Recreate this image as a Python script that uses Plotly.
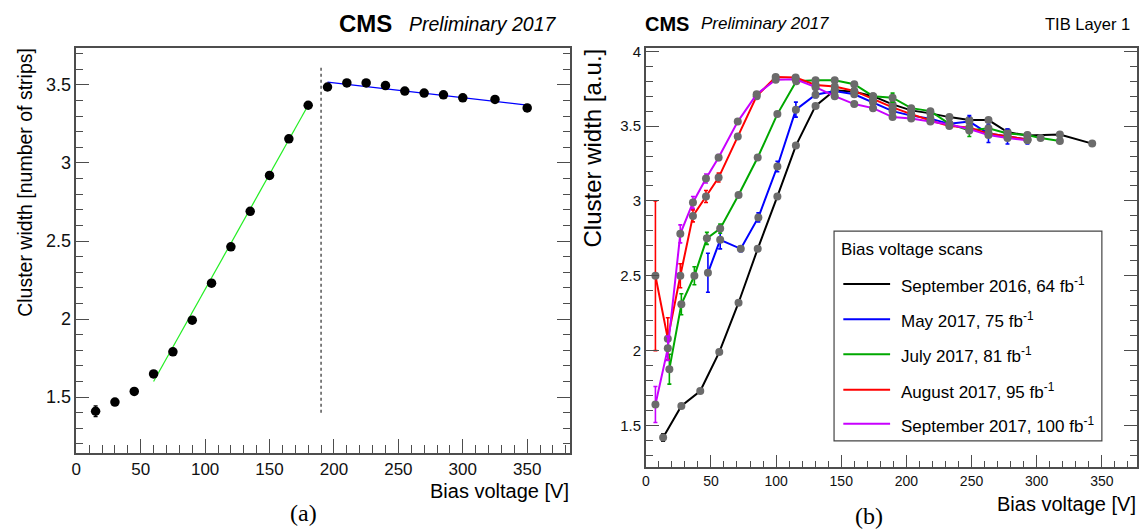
import plotly.graph_objects as go

W, H = 1141, 530

# ---------------- Panel (a): cluster width vs bias voltage ----------------
a_voltage = [15, 30, 45, 60, 75, 90, 105, 120, 135, 150, 165, 180,
             195, 210, 225, 240, 255, 270, 285, 300, 325, 350]
a_width = [1.409, 1.468, 1.536, 1.648, 1.79, 1.993, 2.23, 2.463, 2.69, 2.92, 3.155, 3.37,
           3.487, 3.513, 3.513, 3.496, 3.461, 3.448, 3.437, 3.418, 3.407, 3.353]
a_err = [0.035, 0.008, 0.008, 0.008, 0.008, 0.008, 0.008, 0.008, 0.008, 0.008, 0.008, 0.008,
         0.008, 0.008, 0.008, 0.008, 0.008, 0.008, 0.008, 0.008, 0.008, 0.008]
fit_low_v = [60, 179]
fit_low_w = [1.60, 3.356]
fit_high_v = [195, 350]
fit_high_w = [3.518, 3.371]
transition_v = [190, 190]
transition_w = [1.40, 3.62]

# ---------------- Panel (b): TIB Layer 1 bias voltage scans ----------------
sep16_v = [13.3, 27.3, 41.8, 56.4, 71.2, 85.9, 101, 115.2, 130.3, 145, 160, 174.4,
           189.4, 203.7, 218.4, 233, 248.3, 263, 277.6, 292.9, 317.8, 342.6]
sep16_w = [1.42, 1.63, 1.73, 1.99, 2.32, 2.68, 3.03, 3.37, 3.635, 3.74, 3.73, 3.70,
           3.645, 3.605, 3.585, 3.56, 3.54, 3.54, 3.46, 3.437, 3.444, 3.383]
sep16_e = [0.025] + [0.005] * 21

may17_v = [47.7, 57.1, 72.9, 86.4, 101, 115.2, 130.3, 145, 160, 174.4, 189.4, 203.7,
           218.4, 233, 248.3, 263, 277.6, 292.9]
may17_w = [2.52, 2.74, 2.68, 2.89, 3.23, 3.61, 3.71, 3.735, 3.713, 3.66, 3.60, 3.57,
           3.55, 3.515, 3.53, 3.45, 3.43, 3.41]
may17_e = [0.13, 0.06, 0.02, 0.03, 0.035, 0.05, 0.02, 0.02, 0.015, 0.015, 0.015, 0.015,
           0.015, 0.015, 0.04, 0.06, 0.05, 0.03]

jul17_v = [18.1, 27.3, 37.3, 46.9, 57.1, 71.2, 85.9, 101, 115.5, 130.3, 145, 160, 174.4,
           189.4, 203.7, 218.4, 233, 248.3, 263, 277.6, 292.9, 303, 317.8]
jul17_w = [1.876, 2.31, 2.50, 2.75, 2.815, 3.04, 3.29, 3.58, 3.80, 3.806, 3.806, 3.78, 3.70,
           3.69, 3.62, 3.60, 3.515, 3.47, 3.485, 3.45, 3.44, 3.42, 3.40]
jul17_e = [0.1, 0.07, 0.06, 0.04, 0.03, 0.01, 0.01, 0.01, 0.01, 0.01, 0.01, 0.01, 0.01,
           0.03, 0.01, 0.01, 0.01, 0.04, 0.01, 0.01, 0.01, 0.01, 0.01]

aug17_v = [7.4, 16.9, 26.5, 36.2, 46.2, 55.9, 70.6, 85.1, 99.7, 115, 130.3, 145, 160,
           174.4, 189.4, 203.7, 218.4, 233, 248.3, 263, 277.6, 292.9]
aug17_w = [2.50, 2.08, 2.50, 2.90, 3.03, 3.156, 3.43, 3.70, 3.828, 3.824, 3.775, 3.765, 3.735,
           3.68, 3.625, 3.58, 3.537, 3.50, 3.49, 3.45, 3.43, 3.41]
aug17_e = [0.5, 0.14, 0.08, 0.04, 0.04, 0.03, 0.01, 0.01, 0.01, 0.01, 0.01, 0.01, 0.01,
           0.01, 0.01, 0.01, 0.01, 0.01, 0.01, 0.01, 0.01, 0.01]

sep17_v = [7.4, 16.9, 26.5, 36.2, 46.2, 55.9, 70.6, 85.1, 99.7, 115, 130.3, 145, 160,
           174.4, 189.4, 203.7, 218.4, 233, 248.3, 263, 277.6, 292.9]
sep17_w = [1.64, 2.015, 2.78, 2.99, 3.15, 3.29, 3.53, 3.713, 3.81, 3.813, 3.76, 3.70, 3.647,
           3.62, 3.56, 3.55, 3.53, 3.51, 3.48, 3.44, 3.42, 3.405]
sep17_e = [0.12, 0.08, 0.06, 0.04, 0.03, 0.02, 0.01, 0.01, 0.01, 0.01, 0.01, 0.01, 0.01,
           0.01, 0.01, 0.01, 0.01, 0.01, 0.01, 0.01, 0.01, 0.01]

legend_title = "Bias voltage scans"
scan_names = ["September 2016, 64 fb<sup>-1</sup>", "May 2017, 75 fb<sup>-1</sup>",
              "July 2017, 81 fb<sup>-1</sup>", "August 2017, 95 fb<sup>-1</sup>",
              "September 2017, 100 fb<sup>-1</sup>"]
scan_colors = ["#000000", "#0000ff", "#00a800", "#ff0000", "#c800ff"]
scans = [(sep16_v, sep16_w, sep16_e), (may17_v, may17_w, may17_e), (jul17_v, jul17_w, jul17_e),
         (aug17_v, aug17_w, aug17_e), (sep17_v, sep17_w, sep17_e)]

SANS = "Liberation Sans, Arial, Helvetica, sans-serif"
SERIF = "Liberation Serif, Times New Roman, serif"
FRAME = "#4d4d4d"


def px(x):
    return x / W


def py(y):
    return 1 - y / H


fig = go.Figure()

# panel (a)
fig.add_trace(go.Scatter(x=fit_low_v, y=fit_low_w, mode="lines", xaxis="x", yaxis="y",
                         line=dict(color="#22ee22", width=1.2), showlegend=False))
fig.add_trace(go.Scatter(x=fit_high_v, y=fit_high_w, mode="lines", xaxis="x", yaxis="y",
                         line=dict(color="#0000ff", width=1.2), showlegend=False))
fig.add_trace(go.Scatter(x=transition_v, y=transition_w, mode="lines", xaxis="x", yaxis="y",
                         line=dict(color="#555555", width=1.5, dash="3px,3px"), showlegend=False))
fig.add_trace(go.Scatter(x=a_voltage, y=a_width, mode="markers", xaxis="x", yaxis="y",
                         marker=dict(color="#000000", size=9.5),
                         error_y=dict(type="data", array=a_err, color="#000000", thickness=1.2, width=2),
                         showlegend=False))

# panel (b)
for (v, w, e), c in zip(scans, scan_colors):
    fig.add_trace(go.Scatter(x=v, y=w, mode="lines+markers", xaxis="x2", yaxis="y2",
                             line=dict(color=c, width=2),
                             marker=dict(color="#6b6b6b", size=8),
                             error_y=dict(type="data", array=e, color=c, thickness=1.6, width=2),
                             showlegend=False))

axis_common = dict(showgrid=False, zeroline=False, showline=True, linecolor=FRAME, linewidth=1.5,
                   ticks="inside", tickcolor=FRAME, tickwidth=1.2, fixedrange=True)

fig.update_layout(
    width=W, height=H, margin=dict(l=0, r=0, t=0, b=0),
    paper_bgcolor="white", plot_bgcolor="white", showlegend=False,
    font=dict(family=SANS, color="#111111"),
    xaxis=dict(axis_common, domain=[px(71.6), px(567.2)], range=[0, 383], anchor="y",
               mirror=True, dtick=50, tick0=0, ticklen=14,
               tickfont=dict(size=17),
               minor=dict(dtick=10, ticklen=8, ticks="inside", tickcolor=FRAME, tickwidth=1.2)),
    yaxis=dict(axis_common, domain=[py(452.5), py(43.4)], range=[1.14, 3.737], anchor="x",
               mirror="ticks", dtick=0.5, tick0=0, ticklen=13, tickfont=dict(size=18),
               minor=dict(dtick=0.1, ticklen=7, ticks="inside", tickcolor=FRAME, tickwidth=1.2)),
    xaxis2=dict(axis_common, domain=[px(643.6), px(1137)], range=[0, 377], anchor="y2",
                mirror=True, dtick=50, tick0=0, ticklen=13, tickfont=dict(size=14),
                minor=dict(dtick=10, ticklen=7, ticks="inside", tickcolor=FRAME, tickwidth=1.2)),
    yaxis2=dict(axis_common, domain=[py(466.7), py(43.3)], range=[1.2204, 4.0225], anchor="x2",
                mirror="ticks", dtick=0.5, tick0=0, ticklen=13, tickfont=dict(size=15),
                minor=dict(dtick=0.1, ticklen=7, ticks="inside", tickcolor=FRAME, tickwidth=1.2)),
)

ann = []
shapes = []


def add_text(text, x, y, size, xanchor="left", yanchor="middle", family=SANS, angle=0):
    ann.append(dict(text=text, x=px(x), y=py(y), xref="paper", yref="paper", showarrow=False,
                    xanchor=xanchor, yanchor=yanchor, textangle=angle, borderpad=0,
                    font=dict(size=size, family=family, color="#000000")))


# panel (a) texts
add_text("<b>CMS</b>", 334, 19, 24)
add_text("<i>Preliminary 2017</i>", 405, 19, 19.5)
add_text("Cluster width [number of strips]", 20.4, 42.4, 19.5, xanchor="center", yanchor="top", angle=-90)
add_text("Bias voltage [V]", 567.2, 491, 20, xanchor="right")
add_text("(a)", 300, 513, 24, xanchor="center", family=SERIF)

# panel (b) texts
add_text("<b>CMS</b>", 641.5, 19, 20)
add_text("<i>Preliminary 2017</i>", 698, 19, 17)
add_text("TIB Layer 1", 1131, 19, 16.5, xanchor="right")
add_text("Cluster width [a.u.]", 590, 43, 24, xanchor="center", yanchor="top", angle=-90)
add_text("Bias voltage [V]", 1137, 504, 20, xanchor="right")
add_text("(b)", 868, 516, 24, xanchor="center", family=SERIF)

# legend box for panel (b)
shapes.append(dict(type="rect", xref="paper", yref="paper",
                   x0=px(832.7), x1=px(1101.7), y0=py(440), y1=py(228.3),
                   line=dict(color="#444444", width=1.2), fillcolor="white", layer="above"))
add_text(legend_title, 839, 247, 17)
entry_y = [281.7, 317.3, 352.7, 388.3, 422.7]
for n, c, yy in zip(scan_names, scan_colors, entry_y):
    shapes.append(dict(type="line", xref="paper", yref="paper", x0=px(842), x1=px(889),
                       y0=py(yy), y1=py(yy), line=dict(color=c, width=2), layer="above"))
    add_text(n, 899, yy + 1, 17)

fig.update_layout(annotations=ann, shapes=shapes)

fig.write_html("out.html")
